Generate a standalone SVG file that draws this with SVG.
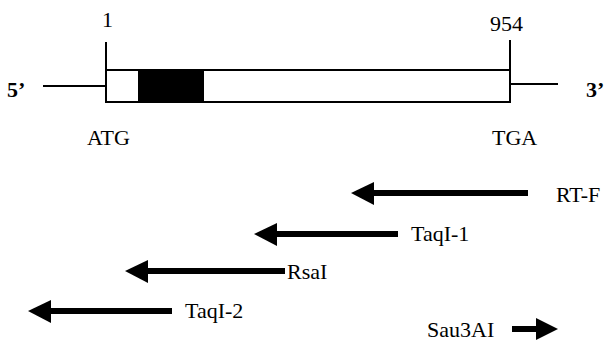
<svg xmlns="http://www.w3.org/2000/svg" width="605" height="341" viewBox="0 0 605 341">
<style>
text{font-family:'Liberation Serif','DejaVu Serif',serif;font-size:22px;fill:#000}
.b{font-weight:bold}
.ln{stroke:#000;stroke-width:2;fill:none}
.sh{stroke:#000;stroke-width:6;fill:none}
.hd{fill:#000}
</style>
<rect width="605" height="341" fill="#fff"/>
<g id="gene">
<line class="ln" x1="43" y1="86" x2="106" y2="86"/>
<line class="ln" x1="510" y1="84" x2="558" y2="84"/>
<line class="ln" x1="106" y1="42" x2="106" y2="70"/>
<line class="ln" x1="510" y1="40" x2="510" y2="70"/>
<rect x="106" y="70" width="404" height="32" fill="#fff" stroke="#000" stroke-width="2"/>
<rect x="138" y="70" width="66" height="32" fill="#000"/>
<text x="102" y="27">1</text>
<text x="490" y="31">954</text>
<text class="b" x="7" y="97">5’</text>
<text class="b" x="586" y="97">3’</text>
<text x="87" y="145">ATG</text>
<text x="492" y="145">TGA</text>
</g>
<g id="primers">
<g id="rtf">
<line class="sh" x1="372" y1="193" x2="528" y2="193"/>
<polygon class="hd" points="351,193 374,182 374,205"/>
<text x="556" y="202">RT-F</text>
</g>
<g id="taqi1">
<line class="sh" x1="275" y1="234" x2="398" y2="234"/>
<polygon class="hd" points="254,234 277,223 277,246"/>
<text x="411" y="241">TaqI-1</text>
</g>
<g id="rsai">
<line class="sh" x1="146" y1="271" x2="285" y2="271"/>
<polygon class="hd" points="125,271 148,260 148,283"/>
<text x="287" y="279">RsaI</text>
</g>
<g id="taqi2">
<line class="sh" x1="49" y1="311" x2="172" y2="311"/>
<polygon class="hd" points="28,311 51,300 51,323"/>
<text x="185" y="318">TaqI-2</text>
</g>
<g id="sau3ai">
<line class="sh" x1="512" y1="329" x2="538" y2="329"/>
<polygon class="hd" points="558,329 536,318 536,340"/>
<text x="427" y="337">Sau3AI</text>
</g>
</g>
</svg>
